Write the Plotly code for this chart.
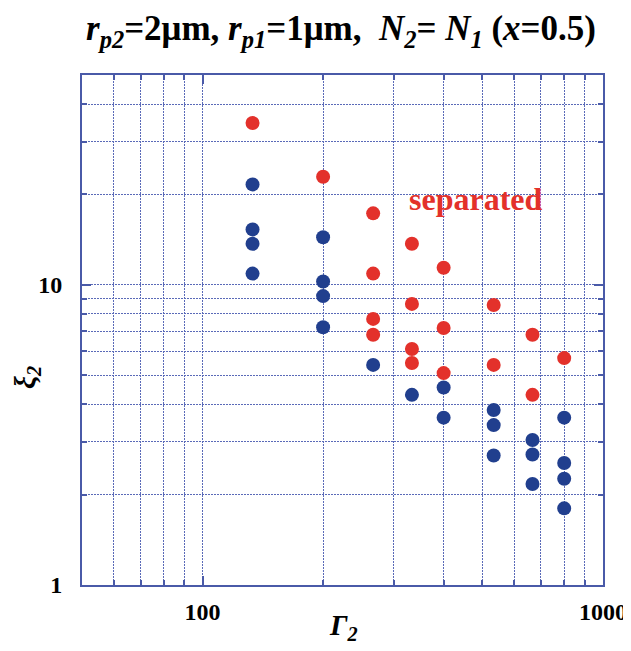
import plotly.graph_objects as go
import math

# Data
gamma_red = [133.3, 200, 266.7, 266.7, 266.7, 266.7, 333.3, 333.3, 333.3, 333.3,
             400, 400, 400, 533.3, 533.3, 666.7, 666.7, 800]
xi_red = [34.6, 22.9, 17.3, 10.9, 7.7, 6.82, 13.7, 8.64, 6.11, 5.49,
          11.4, 7.18, 5.08, 8.57, 5.41, 6.82, 4.30, 5.70]

gamma_blue = [133.3, 133.3, 133.3, 133.3, 200, 200, 200, 200, 266.7, 333.3,
              400, 400, 533.3, 533.3, 533.3, 666.7, 666.7, 666.7, 800, 800, 800, 800]
xi_blue = [21.6, 15.3, 13.7, 10.9, 14.4, 10.26, 9.17, 7.22, 5.41, 4.30,
           4.55, 3.61, 3.83, 3.41, 2.70, 3.04, 2.72, 2.17, 3.61, 2.55, 2.26, 1.80]

x_major = [100, 1000]
x_major_text = ["100", "1000"]
x_minor = [60, 70, 80, 90, 200, 300, 400, 500, 600, 700, 800, 900]
y_major = [1, 10]
y_major_text = ["1", "10"]
y_minor = [2, 3, 4, 5, 6, 7, 8, 9, 20, 30, 40]

RED = "#e3312b"
BLUE = "#213f8e"
AX = "#4a5aa8"
GRID = "#5a6ab8"
GDASH = "2px,1px"
SERIF = "Liberation Serif"

# page offset of the figure (default body margin)
OFF = 8
W, H = 631 - OFF, 651 - OFF
L, T, R, B = 82 - OFF, 75 - OFF, 28, 66
PW, PH = W - L - R, H - T - B

def px_to_paper_x(px):
    return (px - OFF - L) / PW

def px_to_paper_y(py):
    return (H - B - (py - OFF)) / PH

fig = go.Figure()
fig.add_trace(go.Scatter(x=gamma_red, y=xi_red, mode="markers",
                         marker=dict(color=RED, size=14, line=dict(width=0)),
                         showlegend=False))
fig.add_trace(go.Scatter(x=gamma_blue, y=xi_blue, mode="markers",
                         marker=dict(color=BLUE, size=14, line=dict(width=0)),
                         showlegend=False))

axis_common = dict(
    showline=True, linecolor=AX, linewidth=2, mirror="allticks",
    ticks="inside", ticklen=9, tickwidth=2, tickcolor=AX,
    showgrid=True, gridcolor=GRID, griddash=GDASH, gridwidth=1.2,
    zeroline=False, automargin=False,
    tickfont=dict(family=SERIF, size=24, color="black", weight="bold"),
)

fig.update_xaxes(type="log", range=[math.log10(50), 3],
                 tickmode="array", tickvals=x_major, ticktext=x_major_text,
                 ticklabelstandoff=4,
                 minor=dict(tickmode="array", tickvals=x_minor, ticks="inside",
                            ticklen=5, tickwidth=1.5, tickcolor=AX,
                            showgrid=True, gridcolor=GRID, griddash=GDASH, gridwidth=1.2),
                 **axis_common)
fig.update_yaxes(type="log", range=[0, math.log10(50)],
                 tickmode="array", tickvals=y_major, ticktext=y_major_text,
                 ticklabelstandoff=13,
                 minor=dict(tickmode="array", tickvals=y_minor, ticks="inside",
                            ticklen=5, tickwidth=1.5, tickcolor=AX,
                            showgrid=True, gridcolor=GRID, griddash=GDASH, gridwidth=1.2),
                 **axis_common)

fig.add_annotation(text="<b>separated</b>", xref="paper", yref="paper",
                   x=px_to_paper_x(476), y=px_to_paper_y(199), xanchor="center", yanchor="middle",
                   showarrow=False, font=dict(family=SERIF, size=32, color=RED))

fig.add_annotation(text="<b><i>Γ</i><sub><i>2</i></sub></b>", xref="paper", yref="paper",
                   x=px_to_paper_x(343), y=px_to_paper_y(627), xanchor="center", yanchor="middle",
                   showarrow=False, font=dict(family=SERIF, size=29, color="black"))

fig.add_annotation(text="<b><i>ξ</i><sub><i>2</i></sub></b>", xref="paper", yref="paper",
                   x=px_to_paper_x(27), y=px_to_paper_y(378), xanchor="center", yanchor="middle",
                   textangle=-90, showarrow=False, font=dict(family=SERIF, size=29, color="black"))

fig.update_layout(
    width=W, height=H,
    margin=dict(l=L, r=R, t=T, b=B),
    paper_bgcolor="white", plot_bgcolor="white",
    title=dict(
        text="<b><i>r</i><sub><i>p2</i></sub>=2μm, <i>r</i><sub><i>p1</i></sub>=1μm,&nbsp; "
             "<i>N</i><sub><i>2</i></sub>= <i>N</i><sub><i>1</i></sub> (<i>x</i>=0.5)</b>",
        x=(341 - OFF) / W, xanchor="center", y=1 - (28 - OFF) / H, yanchor="middle",
        font=dict(family=SERIF, size=35, color="black")),
)

fig.write_html("out.html")
